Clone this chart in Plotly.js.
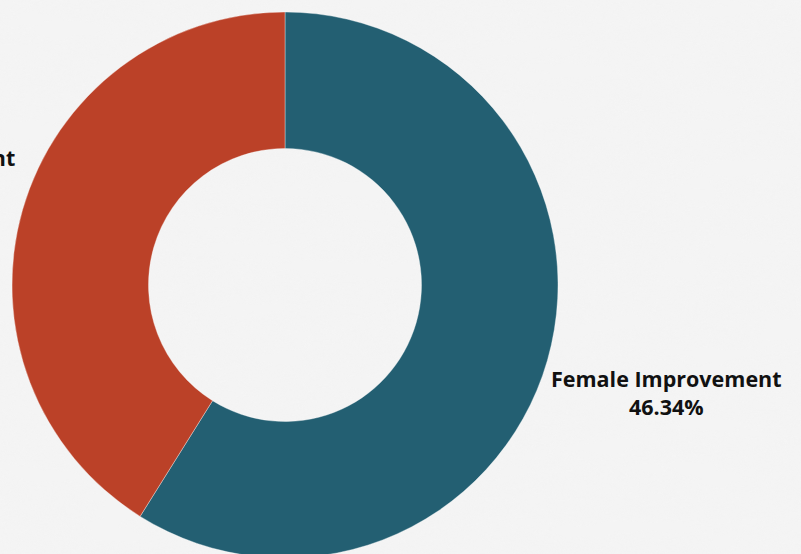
<!DOCTYPE html>
<html>
<head>
<meta charset="utf-8">
<script src="https://cdn.plot.ly/plotly-3.0.1.min.js"></script>
<style>
html,body{margin:0;padding:0;overflow:hidden;width:801px;height:554px;}
body{background:#f0f0f0;}
#bg{position:absolute;left:0;top:0;width:801px;height:554px;}
#chart{position:absolute;left:0;top:0;width:801px;height:570px;}
</style>
</head>
<body>
<svg id="bg" width="801" height="554">
<filter id="paper" x="0" y="0" width="100%" height="100%">
<feTurbulence type="fractalNoise" baseFrequency="0.012 0.05" numOctaves="4" seed="3"/>
<feColorMatrix type="matrix" values="0 0 0 0 0.9  0 0 0 0 0.9  0 0 0 0 0.9  -1.4 0 0 0 0.95"/>
</filter>
<rect width="801" height="554" fill="#f4f4f4"/>
<rect width="801" height="554" filter="url(#paper)" opacity="0.8"/>
</svg>
<div id="chart"></div>
<script>
var categories = ["Female Improvement", "Male Improvement"];
var values = [46.34, 32.33];
var valueLabels = ["46.34%", "32.33%"];
var colors = ["#235f72", "#bb4128"];

// label placement (paper coordinates) and anchors — styling only
var labelX = [0.83, 0.0068];
var labelY = [0.304, 0.707];
var labelAnchor = ["center", "right"];

var data = [{
  type: "pie",
  labels: categories,
  values: values,
  textinfo: "none",
  hole: 0.5,
  sort: false,
  direction: "clockwise",
  rotation: 0,
  marker: {colors: colors, line: {color: "rgba(255,255,255,0.35)", width: 1}},
  automargin: false,
  hoverinfo: "label+value",
  domain: {x: [0, 546/789], y: [0, 1]}
}];

var annotations = categories.map(function(c, i){
  return {
    xref: "paper", yref: "paper",
    x: labelX[i], y: labelY[i],
    xanchor: labelAnchor[i], yanchor: "middle",
    align: "center",
    showarrow: false,
    text: "<b>" + c + "<br>" + valueLabels[i] + "</b>",
    font: {family: "Open Sans", size: 21.5, color: "#111111"}
  };
});

var layout = {
  width: 801,
  height: 570,
  margin: {l: 12, r: 0, t: 12, b: 12},
  showlegend: false,
  paper_bgcolor: "rgba(0,0,0,0)",
  plot_bgcolor: "rgba(0,0,0,0)",
  font: {family: "Open Sans"},
  annotations: annotations
};

Plotly.newPlot("chart", data, layout, {displayModeBar: false, staticPlot: true});
</script>
</body>
</html>
